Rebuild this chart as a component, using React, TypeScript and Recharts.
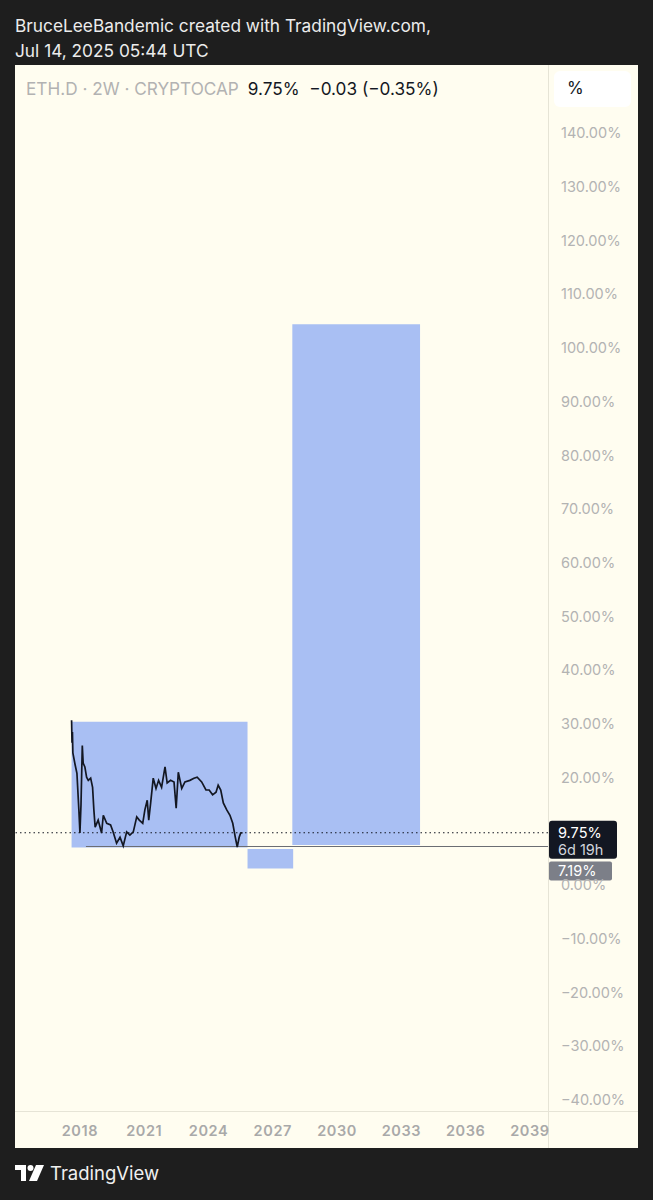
import React from "react";
import {
  ComposedChart,
  Line,
  XAxis,
  YAxis,
  ReferenceArea,
  ReferenceLine,
} from "recharts";

// ETH.D 2W closes (time in decimal years)
const times = [
  2017.61, 2017.63, 2017.65, 2017.67, 2017.77, 2017.86, 2017.95, 2018.0, 2018.05, 2018.11, 2018.15,
  2018.23, 2018.31, 2018.39, 2018.5, 2018.59, 2018.65, 2018.71, 2018.85, 2019.01, 2019.09,
  2019.25, 2019.43, 2019.55, 2019.71, 2019.87, 2020.02, 2020.18, 2020.33, 2020.49, 2020.65,
  2020.77, 2020.93, 2021.03, 2021.14, 2021.21, 2021.3, 2021.42, 2021.55, 2021.67, 2021.81,
  2021.97, 2022.07, 2022.23, 2022.39, 2022.49, 2022.59, 2022.75, 2022.9, 2023.13, 2023.32,
  2023.47, 2023.68, 2023.88, 2024.03, 2024.19, 2024.35, 2024.45, 2024.57, 2024.69, 2024.85,
  2025.0, 2025.13, 2025.25, 2025.34, 2025.43, 2025.5, 2025.59,
];
const dominance = [
  30.7, 26.5, 28.5, 24.6, 22.5, 20.8, 14, 9.7, 15, 26, 22.7,
  22, 20.1, 19.5, 19.9, 18.2, 14, 10.8, 12.1, 9.7, 13,
  11.5, 11.2, 9.9, 7.8, 8.9, 7.3, 9.9, 9.3, 9.9, 12.7,
  12.1, 11.5, 14, 15.8, 12.1, 15.3, 19.9, 18, 19.5, 18.2,
  22, 19, 19.5, 19.2, 14.3, 21, 18, 19.2, 19.5, 19.9,
  20.1, 19.2, 17.7, 17.7, 16.8, 17.3, 18.6, 17.7, 15.3, 14,
  13, 11.5, 8.9, 7.1, 8.9, 9.7, 9.75,
];

const yearTicks = [2018, 2021, 2024, 2027, 2030, 2033, 2036, 2039];
const pctTicks = [140, 130, 120, 110, 100, 90, 80, 70, 60, 50, 40, 30, 20, 0, -10, -20, -30, -40];

// drawn rectangles (time range, percent range)
const boxStart = [2017.61, 2025.82, 2027.91];
const boxEnd = [2025.82, 2027.95, 2033.87];
const boxLow = [7.0, 3.1, 7.45];
const boxHigh = [30.4, 6.7, 104.4];

const lastPrice = 9.75;
const rayLevel = 7.19;
const rayStart = 2018.28;

const data = times.map((t, i) => ({ t, v: dominance[i] }));

const FONT = "Inter, 'Noto Sans', sans-serif";
const fmt = (v: number) => `${v < 0 ? "\u2212" : ""}${Math.abs(v).toFixed(2)}%`;

const PctTick = (props: any) => {
  const { x, y, payload } = props;
  return (
    <text x={x} y={y} dy="0.36em" textAnchor="start" fill="#b3b3b3" fontSize={14.5} fontFamily={FONT}>
      {fmt(payload.value)}
    </text>
  );
};

const YearTick = (props: any) => {
  const { x, y, payload } = props;
  return (
    <text x={x} y={y} dy="0.36em" textAnchor="middle" fill="#a9a9a9" fontSize={14.5} fontWeight={600}
      letterSpacing={0.6} fontFamily={FONT}>
      {payload.value}
    </text>
  );
};

const NowTag = (props: any) => {
  const vb = props.viewBox;
  const x = vb.x + vb.width + 1;
  const y = vb.y;
  return (
    <g>
      <rect x={x} y={y - 12} width={68} height={38} rx={3} fill="#131722" />
      <text x={x + 9} y={y} dy="0.36em" fill="#ffffff" fontSize={14.5} fontFamily={FONT}>
        {fmt(lastPrice)}
      </text>
      <text x={x + 9} y={y + 17} dy="0.36em" fill="#d1d4dc" fontSize={14.5} fontFamily={FONT}>
        6d 19h
      </text>
    </g>
  );
};

const RayTag = (props: any) => {
  const vb = props.viewBox;
  const x = vb.x + vb.width + 1;
  const y = vb.y;
  return (
    <g>
      <rect x={x} y={y + 15} width={63} height={19} rx={2} fill="#7c7f88" />
      <text x={x + 9} y={y + 24.5} dy="0.36em" fill="#ffffff" fontSize={14.5} fontFamily={FONT}>
        {fmt(rayLevel)}
      </text>
    </g>
  );
};

const TvLogo = () => (
  <svg width={30} height={18} viewBox="0 0 30 18">
    <path d="M0 1h11v16H6V6H0z" fill="#fff" />
    <circle cx={15.5} cy={4} r={3} fill="#fff" />
    <path d="M21 1h8l-7 16h-8z" fill="#fff" />
  </svg>
);

export default function App() {
  return (
    <div style={{ position: "absolute", left: 0, top: 0, width: 653, height: 1200, background: "#1e1e1e", fontFamily: FONT }}>
      <div style={{ position: "absolute", left: 15, top: 13, color: "#ececec", fontSize: 17.3, lineHeight: "25px" }}>
        BruceLeeBandemic created with TradingView.com,
        <br />
        Jul 14, 2025 05:44 UTC
      </div>
      {/* chart panel */}
      <div style={{ position: "absolute", left: 15, top: 65, width: 623, height: 1083, background: "#fffdf0" }} />
      <div style={{ position: "absolute", left: 548, top: 65, width: 1, height: 1083, background: "#e6e4d6" }} />
      <div style={{ position: "absolute", left: 15, top: 1111, width: 623, height: 1, background: "#e6e4d6" }} />
      <div style={{ position: "absolute", left: 554, top: 71, width: 77, height: 36, background: "#ffffff", borderRadius: 6 }} />
      <div style={{ position: "absolute", left: 567, top: 78, fontSize: 17, color: "#131722" }}>%</div>

      <div style={{ position: "absolute", left: 0, top: 0 }}>
        <ComposedChart width={653} height={1200} data={data} margin={{ top: 65, right: 15, bottom: 52, left: 15 }}>
          <XAxis
            dataKey="t"
            type="number"
            domain={[2014.97, 2039.84]}
            allowDataOverflow
            ticks={yearTicks}
            height={37}
            axisLine={false}
            tickLine={false}
            tickSize={0}
            tickMargin={20}
            interval={0}
            tick={<YearTick />}
          />
          <YAxis
            orientation="right"
            type="number"
            domain={[-42.05, 152.66]}
            allowDataOverflow
            ticks={pctTicks}
            width={90}
            axisLine={false}
            tickLine={false}
            tickSize={0}
            tickMargin={13}
            interval={0}
            tick={<PctTick />}
          />
          {boxStart.map((x1, i) => (
            <ReferenceArea
              key={i}
              x1={x1}
              x2={boxEnd[i]}
              y1={boxLow[i]}
              y2={boxHigh[i]}
              fill="#a9bff3"
              fillOpacity={1}
              stroke="none"
              ifOverflow="visible"
            />
          ))}
          <ReferenceLine
            segment={[{ x: rayStart, y: rayLevel }, { x: 2039.84, y: rayLevel }]}
            stroke="#6b6d73"
            strokeWidth={1.2}
          />
          <ReferenceLine y={rayLevel} stroke="none" label={<RayTag />} />
          <ReferenceLine y={lastPrice} stroke="#131722" strokeWidth={1.2} strokeDasharray="1.5 3" label={<NowTag />} />
          <Line
            dataKey="v"
            type="linear"
            stroke="#131722"
            strokeWidth={1.7}
            strokeLinejoin="miter"
            dot={false}
            isAnimationActive={false}
          />
        </ComposedChart>
      </div>

      {/* legend */}
      <div style={{ position: "absolute", left: 26, top: 78, fontSize: 17.2, whiteSpace: "nowrap" }}>
        <span style={{ color: "#b2b2b2" }}>ETH.D · 2W · CRYPTOCAP</span>
        <span style={{ color: "#131722", marginLeft: 9 }}>9.75%&nbsp;&nbsp;−0.03 (−0.35%)</span>
      </div>

      {/* footer */}
      <div style={{ position: "absolute", left: 15, top: 1162, display: "flex", alignItems: "center", gap: 5 }}>
        <TvLogo />
        <span style={{ color: "#f0f0f0", fontSize: 18.5 }}>TradingView</span>
      </div>
    </div>
  );
}
